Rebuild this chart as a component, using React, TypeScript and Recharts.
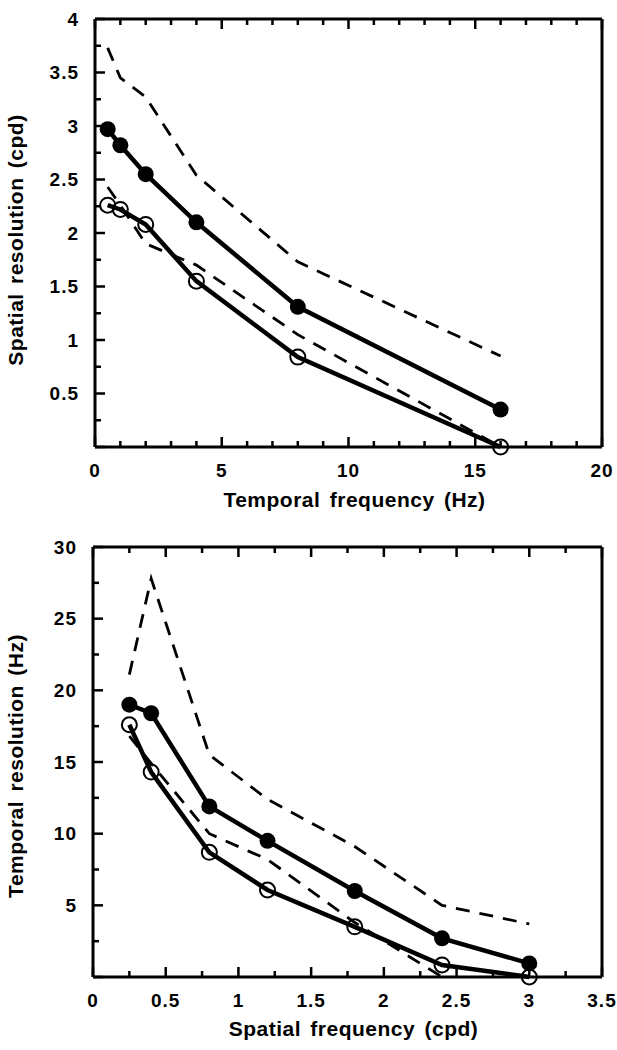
import { LineChart, Line, XAxis, YAxis } from 'recharts'

// top panel: spatial resolution vs temporal frequency
const TF_X = [0.5, 1, 2, 4, 8, 16]
const TF_FILLED = [2.97, 2.82, 2.55, 2.1, 1.31, 0.35]
const TF_OPEN = [2.26, 2.22, 2.08, 1.55, 0.84, 0.0]
const TF_DASH_HI = [3.73, 3.45, 3.27, 2.54, 1.73, 0.85]
const TF_DASH_LO = [2.43, 2.26, 1.9, 1.7, 1.05, 0.0]
const TF_XTICKS = Array.from({ length: 21 }, (_, i) => i)
const TF_XLABELS = [0, 5, 10, 15, 20]
const TF_YTICKS = Array.from({ length: 17 }, (_, i) => i * 0.25)
const TF_YLABELS = [0.5, 1, 1.5, 2, 2.5, 3, 3.5, 4]

// bottom panel: temporal resolution vs spatial frequency
const SF_X = [0.25, 0.4, 0.8, 1.2, 1.8, 2.4, 3.0]
const SF_FILLED = [19.0, 18.4, 11.9, 9.5, 6.0, 2.7, 0.95]
const SF_OPEN = [17.6, 14.3, 8.7, 6.07, 3.5, 0.84, 0.0]
const SF_DASH_HI = [21.1, 27.8, 15.5, 12.4, 9.1, 5.0, 3.7]
const SF_DASH_LO = [16.8, 14.9, 10.0, 8.2, 3.8, 0.0, null]
const SF_XTICKS = Array.from({ length: 15 }, (_, i) => i * 0.25)
const SF_XLABELS = [0, 0.5, 1, 1.5, 2, 2.5, 3, 3.5]
const SF_YTICKS = Array.from({ length: 13 }, (_, i) => i * 2.5)
const SF_YLABELS = [5, 10, 15, 20, 25, 30]

const FONT = '"Liberation Sans", Arial, Helvetica, sans-serif'

const tfData = TF_X.map((x, i) => ({ x, filled: TF_FILLED[i], open: TF_OPEN[i], hi: TF_DASH_HI[i], lo: TF_DASH_LO[i] }))
const sfData = SF_X.map((x, i) => ({ x, filled: SF_FILLED[i], open: SF_OPEN[i], hi: SF_DASH_HI[i], lo: SF_DASH_LO[i] }))

const isMajor = (v: number, step: number) => Math.abs(v / step - Math.round(v / step)) < 1e-6

function XTick({ x, y, payload, step, labels, top }: any) {
  const v = payload.value as number
  const len = isMajor(v, step) ? 10 : 6
  const dir = top ? 1 : -1
  return (
    <g>
      <path d={`M${x},${y}L${x},${y + dir * len}`} stroke="#000" strokeWidth={2.5} fill="none" />
      {!top && labels.includes(v) && (
        <text x={x} y={y + 23} textAnchor="middle" dominantBaseline="central" fontFamily={FONT} fontWeight="bold" fontSize={19} letterSpacing={1} fill="#000">
          {String(v)}
        </text>
      )}
    </g>
  )
}

function YTick({ x, y, payload, step, labels, right }: any) {
  const v = payload.value as number
  const len = isMajor(v, step) ? 10 : 6
  const dir = right ? -1 : 1
  return (
    <g>
      <path d={`M${x},${y}L${x + dir * len},${y}`} stroke="#000" strokeWidth={2.5} fill="none" />
      {!right && labels.includes(v) && (
        <text x={x - 16} y={y} textAnchor="end" dominantBaseline="central" fontFamily={FONT} fontWeight="bold" fontSize={19} letterSpacing={1} fill="#000">
          {String(v)}
        </text>
      )}
    </g>
  )
}

const xTitle = (text: string, dy: number) => (props: any) => {
  const vb = props.viewBox
  return (
    <text x={vb.x + vb.width / 2 + 6} y={vb.y + dy} textAnchor="middle" fontFamily={FONT} fontWeight="bold" fontSize={21} letterSpacing={0.5} wordSpacing={3} fill="#000">
      {text}
    </text>
  )
}

const yTitle = (text: string, shift: number) => (props: any) => {
  const vb = props.viewBox
  const cy = vb.y + vb.height / 2 + shift
  return (
    <text x={23} y={cy} transform={`rotate(-90, 23, ${cy})`} textAnchor="middle" fontFamily={FONT} fontWeight="bold" fontSize={21} letterSpacing={0.5} wordSpacing={3} fill="#000">
      {text}
    </text>
  )
}

function Panel({ data, xDomain, yDomain, xTicks, xLabels, xStep, yTicks, yLabels, yStep, xLabel, yLabel, marginTop, leftWidth, xHeight, titleDy, yShift }: any) {
  return (
    <LineChart width={617} height={525} data={data} margin={{ top: marginTop, right: 14, left: 0, bottom: 0 }}>
      <XAxis dataKey="x" type="number" domain={xDomain} ticks={xTicks} interval={0} height={xHeight}
        tickSize={0} tickMargin={0} axisLine stroke="#000" strokeWidth={3} tickLine={false}
        tick={(p: any) => <XTick {...p} step={xStep} labels={xLabels} />}
        label={xTitle(xLabel, titleDy)} />
      <XAxis xAxisId="top" orientation="top" dataKey="x" type="number" domain={xDomain} ticks={xTicks} interval={0} height={1}
        tickSize={0} tickMargin={0} axisLine stroke="#000" strokeWidth={3} tickLine={false}
        tick={(p: any) => <XTick {...p} step={xStep} labels={[]} top />} />
      <YAxis type="number" domain={yDomain} ticks={yTicks} interval={0} width={leftWidth}
        tickSize={0} tickMargin={0} axisLine stroke="#000" strokeWidth={3} tickLine={false}
        tick={(p: any) => <YTick {...p} step={yStep} labels={yLabels} />}
        label={yTitle(yLabel, yShift)} />
      <YAxis yAxisId="right" orientation="right" type="number" domain={yDomain} ticks={yTicks} interval={0} width={1}
        tickSize={0} tickMargin={0} axisLine stroke="#000" strokeWidth={3} tickLine={false}
        tick={(p: any) => <YTick {...p} step={yStep} labels={[]} right />} />
      <Line dataKey="hi" stroke="#000" strokeWidth={2.8} strokeDasharray="14 10" dot={false} isAnimationActive={false} />
      <Line dataKey="lo" stroke="#000" strokeWidth={2.8} strokeDasharray="14 10" dot={false} isAnimationActive={false} />
      <Line dataKey="filled" stroke="#000" strokeWidth={4.5} dot={{ r: 8, fill: '#000', stroke: '#000', strokeWidth: 0 }} isAnimationActive={false} />
      <Line dataKey="open" stroke="#000" strokeWidth={4.5} dot={{ r: 7.5, fill: 'none', stroke: '#000', strokeWidth: 2 }} isAnimationActive={false} />
    </LineChart>
  )
}

export default function App() {
  return (
    <div style={{ position: 'absolute', left: 0, top: 0, width: 617, height: 1050, background: '#fff' }}>
      <Panel data={tfData} xDomain={[0, 20]} yDomain={[0, 4]} xTicks={TF_XTICKS} xLabels={TF_XLABELS} xStep={5}
        yTicks={TF_YTICKS} yLabels={TF_YLABELS} yStep={0.5} xLabel="Temporal  frequency (Hz)" yLabel="Spatial  resolution (cpd)"
        marginTop={18} leftWidth={95} xHeight={78} titleDy={60} yShift={7} />
      <Panel data={sfData} xDomain={[0, 3.5]} yDomain={[0, 30]} xTicks={SF_XTICKS} xLabels={SF_XLABELS} xStep={0.5}
        yTicks={SF_YTICKS} yLabels={SF_YLABELS} yStep={5} xLabel="Spatial  frequency  (cpd)" yLabel="Temporal  resolution (Hz)"
        marginTop={21} leftWidth={93} xHeight={73} titleDy={59} yShift={4} />
    </div>
  )
}
